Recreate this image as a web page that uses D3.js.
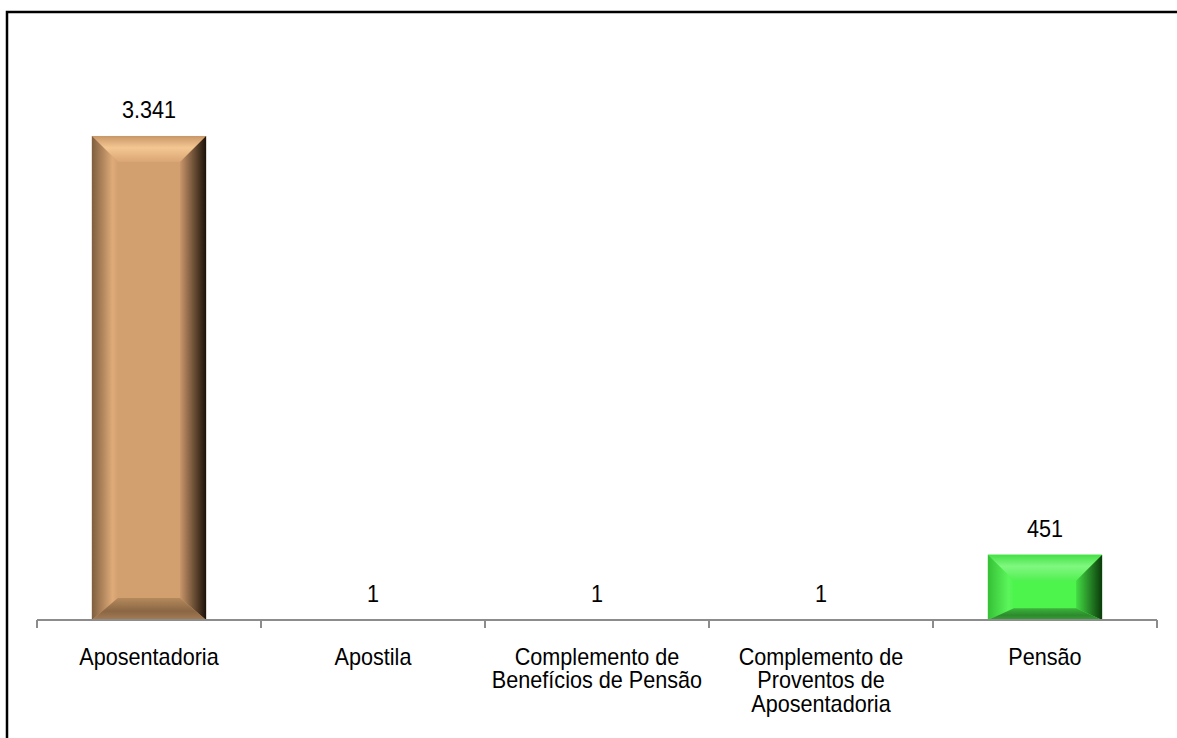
<!DOCTYPE html>
<html lang="pt-BR">
<head>
<meta charset="utf-8">
<title>Benefícios</title>
<script src="https://cdn.jsdelivr.net/npm/d3@7"></script>
<style>
  html, body { margin: 0; padding: 0; background: #ffffff; }
  svg { display: block; }
  text { font-family: "Liberation Sans", Arial, sans-serif; fill: #000; }
</style>
</head>
<body>
<div id="chart"></div>
<script>
// Categorias e valores
const categories = [
  "Aposentadoria",
  "Apostila",
  "Complemento de Benefícios de Pensão",
  "Complemento de Proventos de Aposentadoria",
  "Pensão"
];
const values = [3341, 1, 1, 1, 451];
const yDomainMax = 4000;

// Paleta por barra: face, bevel superior (claro/realce), laterais e base
const brown = { face: "#d29f6f", topA: "#c99767", topB: "#f4c792", topC: "#d9a574",
  leftA: "#7e5e3f", leftB: "#e0ab79", rightA: "#c9966a", rightB: "#1b1108",
  botA: "#b58a5c", botB: "#8a6644", botC: "#a57d56" };
const green = { face: "#4cf44c", topA: "#45e045", topB: "#80f880", topC: "#52f052",
  leftA: "#35c035", leftB: "#5cf65c", rightA: "#44dc44", rightB: "#0b3a0b",
  botA: "#3cb43c", botB: "#2d8a2d", botC: "#36a036" };
const palettes = [brown, brown, brown, brown, green];

const W = 1177, H = 738;
const FONT = 23, SX = 0.94;   // texto em Arial levemente condensado
const fmt = d3.formatLocale({ decimal: ",", thousands: ".", grouping: [3], currency: ["R$", ""] }).format(",d");

const svg = d3.select("#chart").append("svg")
  .attr("width", W).attr("height", H);

const data = categories.map((c, i) => ({ cat: c, value: values[i], pal: palettes[i], i }));

const x = d3.scaleBand()
  .domain(categories)
  .range([37, 1157])
  .paddingInner(0.49)
  .paddingOuter(0.245);

const y = d3.scaleLinear()
  .domain([0, yDomainMax])
  .range([620, 40.5]);

// Gradientes dos bevels
const defs = svg.append("defs");
data.forEach(d => {
  const p = d.pal;
  const lin = (id, x2, y2, stops) => {
    const g = defs.append("linearGradient").attr("id", id)
      .attr("x1", 0).attr("y1", 0).attr("x2", x2).attr("y2", y2);
    stops.forEach(([o, c]) => g.append("stop").attr("offset", o).attr("stop-color", c));
  };
  lin(`top${d.i}`, 0, 1, [[0, p.topA], [0.45, p.topB], [1, p.topC]]);
  lin(`left${d.i}`, 1, 0, [[0, p.leftA], [0.8, p.leftB], [1, p.face]]);
  lin(`right${d.i}`, 1, 0, [[0, p.rightA], [1, p.rightB]]);
  lin(`bot${d.i}`, 0, 1, [[0, p.botA], [0.6, p.botB], [1, p.botC]]);
});

// Moldura
svg.append("path")
  .attr("d", `M7,${H} V12 H${W}`)
  .attr("fill", "none")
  .attr("stroke", "#000")
  .attr("stroke-width", 2.5);

// Barras com bevel
const bars = svg.append("g").selectAll("g.bar").data(data).join("g").attr("class", "bar");

bars.each(function(d) {
  const g = d3.select(this);
  const x0 = x(d.cat), w = x.bandwidth();
  const y0 = y(d.value), h = y(0) - y0;
  const x1 = x0 + w, y1 = y0 + h;
  g.append("rect").attr("x", x0).attr("y", y0).attr("width", w).attr("height", h)
    .attr("fill", d.pal.face);
  if (h < 2) return;
  const b = Math.min(26, h * 0.4);
  const bb = Math.min(22, h * 0.18);
  const poly = pts => "M" + pts.map(p => p.join(",")).join("L") + "Z";
  g.append("path").attr("d", poly([[x0, y0], [x1, y0], [x1 - b, y0 + b], [x0 + b, y0 + b]]))
    .attr("fill", `url(#top${d.i})`);
  g.append("path").attr("d", poly([[x0, y0], [x0 + b, y0 + b], [x0 + b, y1 - bb], [x0, y1]]))
    .attr("fill", `url(#left${d.i})`);
  g.append("path").attr("d", poly([[x1, y0], [x1, y1], [x1 - b, y1 - bb], [x1 - b, y0 + b]]))
    .attr("fill", `url(#right${d.i})`);
  g.append("path").attr("d", poly([[x0, y1], [x0 + b, y1 - bb], [x1 - b, y1 - bb], [x1, y1]]))
    .attr("fill", `url(#bot${d.i})`);
});

// Rótulos de valor
svg.append("g").selectAll("text").data(data).join("text")
  .attr("transform", d => `translate(${x(d.cat) + x.bandwidth() / 2},${y(d.value) - 18}) scale(${SX},1)`)
  .attr("text-anchor", "middle")
  .attr("font-size", FONT)
  .text(d => fmt(d.value));

// Eixo X
const axis = svg.append("g");
const [r0, r1] = x.range();
const step = x.step();
const boundaries = d3.range(categories.length + 1).map(k => r0 + k * step);
axis.append("line")
  .attr("x1", r0).attr("x2", r1).attr("y1", y(0)).attr("y2", y(0))
  .attr("stroke", "#8c8c8c").attr("stroke-width", 2);
axis.selectAll("line.tick").data(boundaries).join("line").attr("class", "tick")
  .attr("x1", d => d).attr("x2", d => d)
  .attr("y1", y(0)).attr("y2", y(0) + 8)
  .attr("stroke", "#8c8c8c").attr("stroke-width", 2);

// Rótulos de categoria com quebra de linha
const maxW = (step - 8) / SX;
const labels = axis.selectAll("text.cat").data(data).join("text").attr("class", "cat")
  .attr("text-anchor", "middle")
  .attr("font-size", FONT)
  .attr("transform", d => `translate(${x(d.cat) + x.bandwidth() / 2},665) scale(${SX},1)`);

labels.each(function(d) {
  const t = d3.select(this);
  const words = d.cat.split(" ");
  const lines = [];
  let cur = [];
  const probe = t.append("tspan");
  words.forEach(wd => {
    const test = cur.concat(wd).join(" ");
    probe.text(test);
    if (probe.node().getComputedTextLength() > maxW && cur.length) {
      lines.push(cur.join(" "));
      cur = [wd];
    } else {
      cur.push(wd);
    }
  });
  if (cur.length) lines.push(cur.join(" "));
  probe.remove();
  lines.forEach((ln, k) => {
    t.append("tspan").attr("x", 0).attr("y", k * 23.5).text(ln);
  });
});
</script>
</body>
</html>
